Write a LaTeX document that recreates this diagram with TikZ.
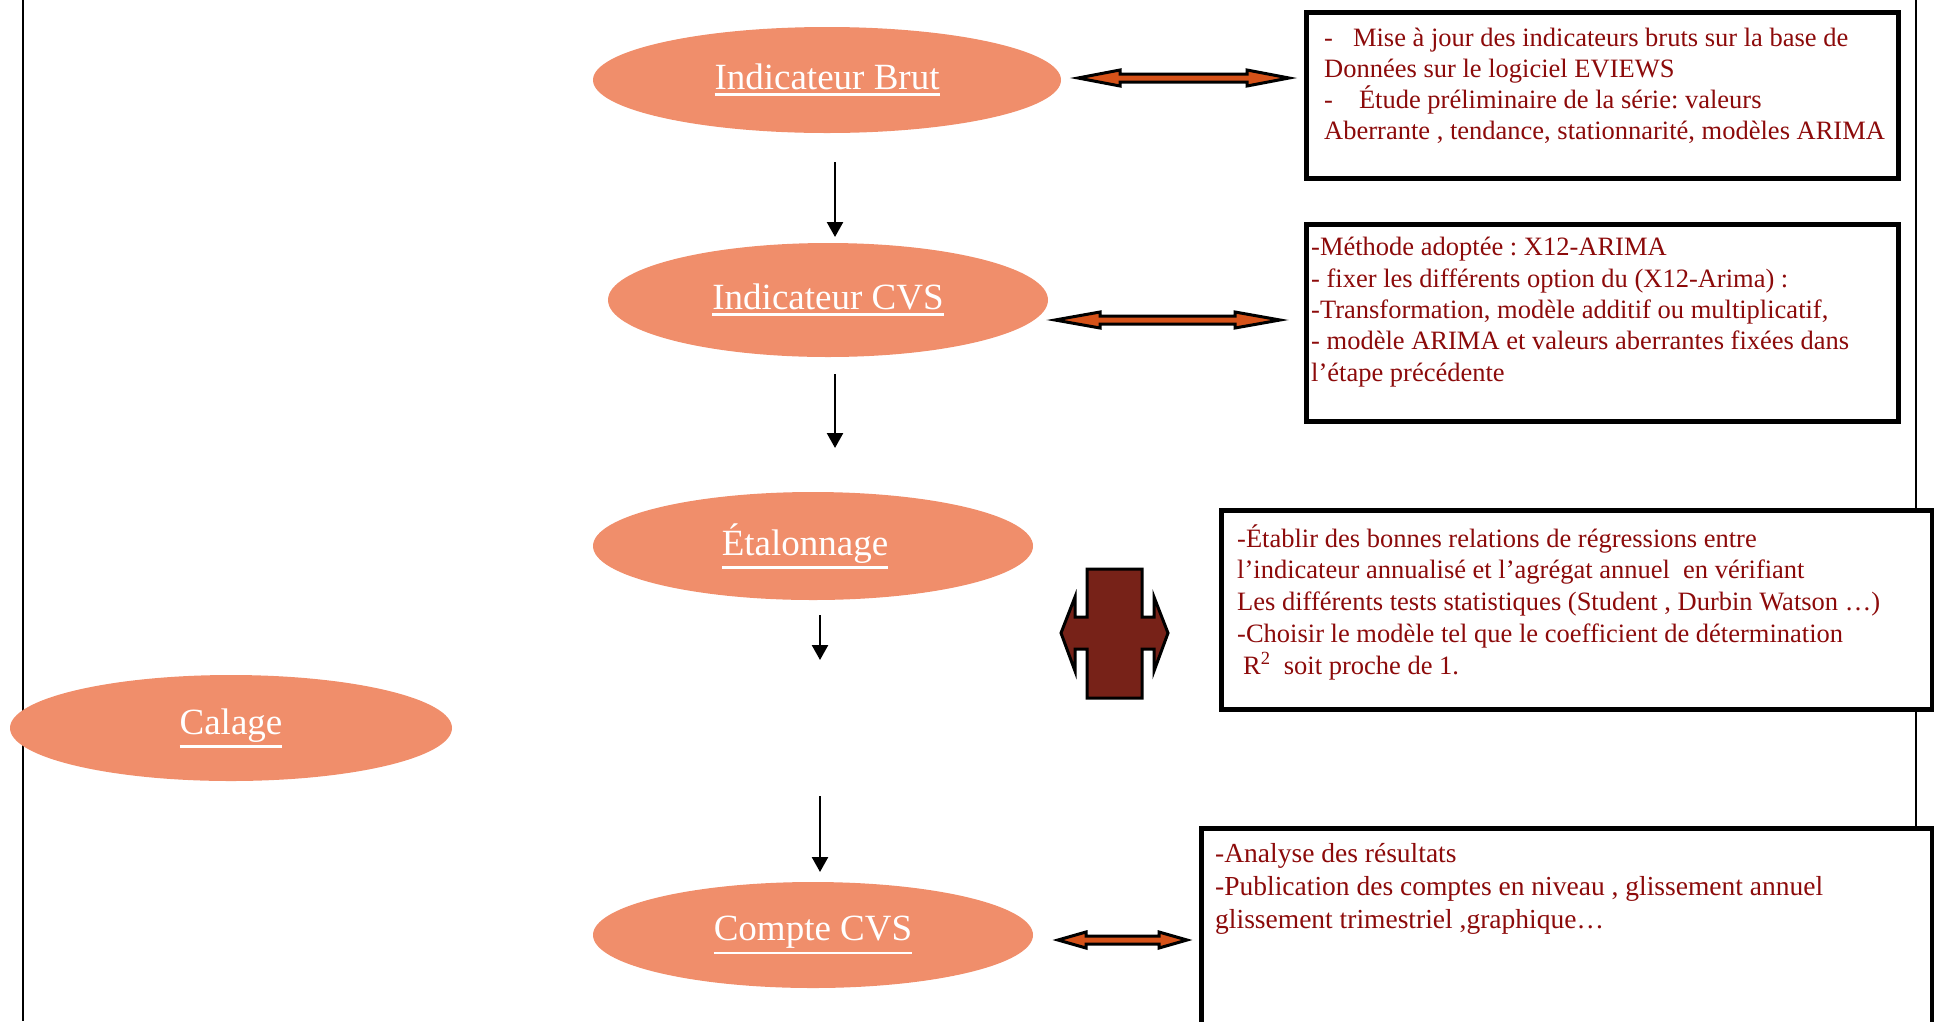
\documentclass[tikz,border=0pt]{standalone}
\usepackage{fontspec}
\setmainfont{Liberation Serif}
\usetikzlibrary{shapes.geometric,arrows.meta}
\definecolor{ellfill}{HTML}{F08E6B}
\definecolor{txtred}{HTML}{8C0A0A}
\definecolor{dblfill}{HTML}{D65219}
\definecolor{crossfill}{HTML}{772218}
\newcommand\dblarr[5]{%
  \draw[dbl] (#1) -- ([shift={(#3,-#5)}]#1) -- ([shift={(#3,-#4)}]#1) -- ([shift={(-#3,-#4)}]#2) -- ([shift={(-#3,-#5)}]#2) -- (#2) -- ([shift={(-#3,#5)}]#2) -- ([shift={(-#3,#4)}]#2) -- ([shift={(#3,#4)}]#1) -- ([shift={(#3,#5)}]#1) -- cycle;}
\newcommand\myul[1]{\leavevmode\vtop{\hbox{#1}\kern3pt\hrule height 2.4pt}}
\frenchspacing
\begin{document}
\begin{tikzpicture}[x=1pt,y=-1pt,
  ell/.style={ellipse, fill=ellfill, inner sep=0pt, text=white, font=\fontsize{37}{44}\selectfont},
  infobox/.style={draw=black, line width=5pt, fill=white, anchor=north west, inner sep=0pt},
  infotext/.style={anchor=base west, inner sep=0pt, align=left, text=txtred},
  flow/.style={line width=2.5pt, -{Triangle[width=16pt,length=15pt]}},
  dbl/.style={fill=dblfill, draw=black, line width=3pt, line join=miter},
  border/.style={line width=2.5pt},
]
\useasboundingbox (0,0) rectangle (1934,1021);
% frame lines
\coordinate (lt) at (23,0); \coordinate (lb) at (23,1021);
\coordinate (rt) at (1916,0); \coordinate (rb) at (1916,1021);
\draw[border] (lt) -- (lb);
\draw[border] (rt) -- (rb);
% ellipses
\node[ell, minimum width=468pt, minimum height=106pt] (brut) at (827,80) {\myul{Indicateur Brut}};
\node[ell, minimum width=440pt, minimum height=114pt] (cvs) at (828,300) {\myul{Indicateur CVS}};
\node[ell, minimum width=440pt, minimum height=108pt] (etal) at (813,546) {\hspace{-16pt}\myul{Étalonnage}};
\node[ell, minimum width=442pt, minimum height=106pt] (calage) at (231,728) {\myul{Calage}};
\node[ell, minimum width=440pt, minimum height=106pt] (compte) at (813,935) {\myul{Compte CVS}};
% boxes
\node[infobox, minimum width=592pt, minimum height=166pt] (box1) at (1304,10) {};
\node[infobox, minimum width=592pt, minimum height=197pt] (box2) at (1304,222) {};
\node[infobox, minimum width=711pt, minimum height=199pt] (box3) at (1219,508) {};
\node[infobox, minimum width=731pt, minimum height=196pt] (box4) at (1199,826) {};
% texts (anchor = baseline of the last line)
\node[infotext, font=\fontsize{26.5}{31}\selectfont] (t1) at (1324,139) {-\hspace{20pt}Mise à jour des indicateurs bruts sur la base de\\Données sur le logiciel EVIEWS\\-\hspace{26pt}Étude préliminaire de la série: valeurs\\Aberrante , tendance, stationnarité, modèles ARIMA};
\node[infotext, font=\fontsize{26.5}{31.3}\selectfont] (t2) at (1311,381) {-Méthode adoptée : X12-ARIMA\\- fixer les différents option du (X12-Arima) :\\-Transformation, modèle additif ou multiplicatif,\\- modèle ARIMA et valeurs aberrantes fixées dans\\l’étape précédente};
\node[infotext, font=\fontsize{26.5}{31.7}\selectfont] (t3) at (1237,674) {-Établir des bonnes relations de régressions entre\\l’indicateur annualisé et l’agrégat annuel\ \ en vérifiant\\Les différents tests statistiques (Student , Durbin Watson …)\\-Choisir le modèle tel que le coefficient de détermination\\\hspace{6pt}R\textsuperscript{2}\ \ soit proche de 1.};
\node[infotext, font=\fontsize{27.5}{33}\selectfont] (t4) at (1215,928) {-Analyse des résultats\\-Publication des comptes en niveau , glissement annuel\\glissement trimestriel ,graphique…};
% vertical flow arrows
\coordinate (v1a) at (835,162); \coordinate (v1b) at (835,237);
\coordinate (v2a) at (835,374); \coordinate (v2b) at (835,448);
\coordinate (v3a) at (820,615); \coordinate (v3b) at (820,660);
\coordinate (v4a) at (820,796); \coordinate (v4b) at (820,872);
\draw[flow] (v1a) -- (v1b);
\draw[flow] (v2a) -- (v2b);
\draw[flow] (v3a) -- (v3b);
\draw[flow] (v4a) -- (v4b);
% double arrows
\coordinate (d1a) at (1078,78); \coordinate (d1b) at (1289,78);
\coordinate (d2a) at (1055,320); \coordinate (d2b) at (1280,320);
\coordinate (d4a) at (1058,940); \coordinate (d4b) at (1187,940);
\dblarr{d1a}{d1b}{42}{4}{8}
\dblarr{d2a}{d2b}{45}{4}{8}
\dblarr{d4a}{d4b}{28}{4}{8}
% cross shape
\draw[fill=crossfill, draw=black, line width=3pt, line join=miter]
  (1087,569) -- (1142,569) -- (1142,617) -- (1154,617) -- (1154,597) -- (1168,633) -- (1154,671) -- (1154,649) -- (1142,649) -- (1142,698) -- (1087,698) -- (1087,649) -- (1075,649) -- (1075,671) -- (1061,633) -- (1075,597) -- (1075,617) -- (1087,617) -- cycle;
\end{tikzpicture}
\end{document}
